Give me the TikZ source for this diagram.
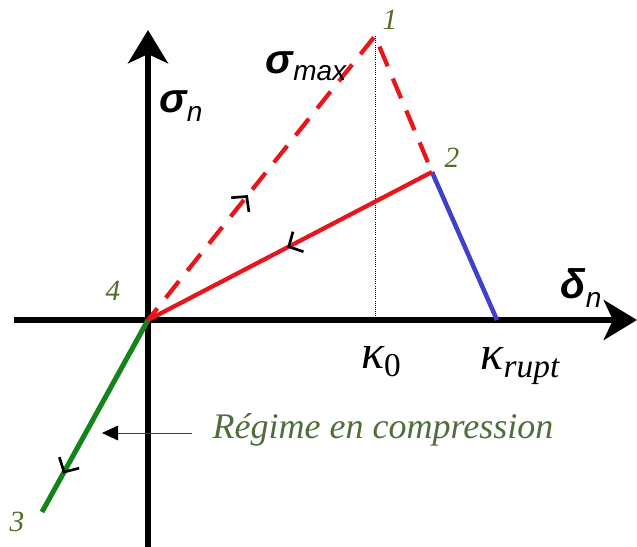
\documentclass[tikz,border=0pt]{standalone}
\usepackage{fontspec}
\setmainfont{Liberation Serif}
\setsansfont{Liberation Sans}
\usetikzlibrary{arrows.meta,decorations.markings}
\definecolor{cred}{RGB}{232,22,28}
\definecolor{cblue}{RGB}{64,64,200}
\definecolor{cgreen}{RGB}{22,130,26}
\definecolor{olive}{RGB}{80,110,40}
\definecolor{tgreen}{RGB}{80,110,60}
\tikzset{
  axis/.style={line width=3.8pt, -{Stealth[length=25pt,width=30pt,inset=7pt]}},
  redline/.style={cred, line width=3.2pt},
  chev/.style={decorate, decoration={markings, mark=at position #1 with {\arrow[black]{Straight Barb[length=8pt,width=17pt,line width=2pt]}}}},
  numlab/.style={olive, font=\fontsize{22}{22}\selectfont\itshape},
}
\begin{document}
\begin{tikzpicture}[x=0.75pt,y=-0.75pt]
\useasboundingbox (0,0) rectangle (637,547);
\coordinate (O) at (148,320);
\coordinate (P1) at (375,36);
\coordinate (P2) at (432,172);
\coordinate (P3) at (42,512);
\coordinate (R) at (497,320);
\coordinate (K) at (375,320);
\coordinate (xa) at (14,320);
\coordinate (xb) at (637,320);
\coordinate (ya) at (148,547);
\coordinate (yb) at (148,30);
\coordinate (ra) at (192,433);
\coordinate (rb) at (102,433);
% dotted
\draw[densely dotted, line width=0.6pt] (P1) -- (K);
% axes
\draw[axis] (xa) -- (xb);
\draw[axis] (ya) -- (yb);
% curves
\draw[cblue, line width=3.4pt] (P2) -- (R);
\draw[cgreen, line width=3.8pt] (O) -- (P3);
\draw[redline, dash pattern=on 16pt off 10pt, dash phase=18pt] (P2) -- (P1) -- (O);
\draw[redline] (P2) -- (O);
% direction chevrons
\path[chev=0.44] (O) -- (P1);
\path[chev=0.51] (P2) -- (O);
\path[chev=0.8] (O) -- (P3);
% compression arrow
\draw[gray!50!black, line width=0.7pt, -{Triangle[length=12pt,width=11pt,color=black]}] (ra) -- (rb);
% labels
\node[numlab] (l1) at (390,20) {1};
\node[numlab] (l2) at (452,158) {2};
\node[numlab] (l3) at (17,522) {3};
\node[numlab] (l4) at (113,291) {4};
\node (smax) at (306,66) {\fontsize{31}{31}\selectfont\sffamily\bfseries\itshape σ\raisebox{-5pt}{\fontsize{21}{21}\selectfont\mdseries max}};
\node (sn) at (181,106) {\fontsize{31}{31}\selectfont\sffamily\bfseries\itshape σ\raisebox{-7pt}{\fontsize{21}{21}\selectfont\mdseries n}};
\node (dn) at (581,288) {\fontsize{31}{31}\selectfont\sffamily\bfseries\itshape δ\raisebox{-7pt}{\fontsize{21}{21}\selectfont\mdseries n}};
\node (k0) at (381,362) {\fontsize{36}{36}\selectfont\itshape κ\raisebox{-6pt}{\fontsize{25}{25}\selectfont\upshape 0}};
\node (kr) at (520,366) {\fontsize{36}{36}\selectfont\itshape κ\raisebox{-6pt}{\fontsize{25}{25}\selectfont rupt}};
\node[tgreen, font=\fontsize{27}{27}\selectfont\itshape] (reg) at (383,430) {Régime en compression};
\end{tikzpicture}
\end{document}
